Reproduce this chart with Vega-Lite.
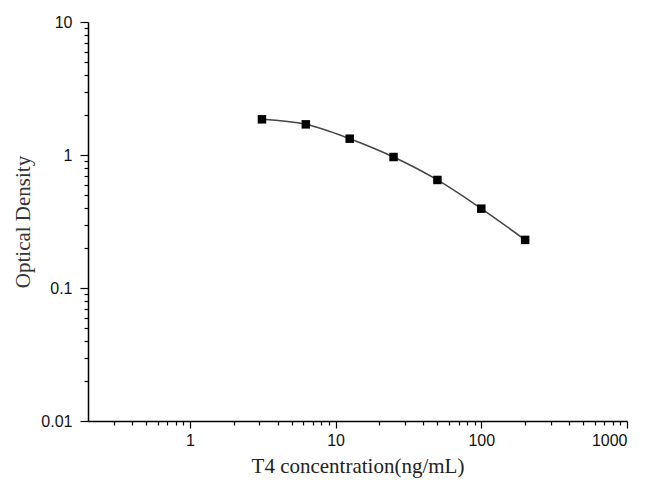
{
  "$schema": "https://vega.github.io/schema/vega-lite/v6.json",
  "width": 539,
  "height": 399,
  "autosize": {"type": "none"},
  "padding": {"left": 88, "top": 22, "right": 18, "bottom": 64},
  "background": "white",
  "config": {"view": {"stroke": null}},
  "data": {
    "values": [
      {"conc": 3.125, "od": 1.855},
      {"conc": 6.25, "od": 1.70},
      {"conc": 12.5, "od": 1.326},
      {"conc": 25, "od": 0.966},
      {"conc": 50, "od": 0.649},
      {"conc": 100, "od": 0.395},
      {"conc": 200, "od": 0.230}
    ]
  },
  "encoding": {
    "x": {"field": "conc", "type": "quantitative", "scale": {"type": "log", "domain": [0.2, 1000], "nice": false}},
    "y": {"field": "od", "type": "quantitative", "scale": {"type": "log", "domain": [0.01, 10], "nice": false}}
  },
  "layer": [
    {
      "mark": {"type": "line", "interpolate": "monotone", "color": "#444444", "strokeWidth": 1.5},
      "encoding": {
        "x": {"field": "conc", "type": "quantitative",
          "axis": {"orient": "bottom", "values": [1, 10, 100, 1000], "format": "~g", "grid": false,
            "domainColor": "#000000", "domainWidth": 1.5, "tickColor": "#000000", "tickWidth": 1.2, "tickSize": 7,
            "labelFont": "Liberation Sans", "labelFontSize": 16, "labelColor": "#111111", "labelPadding": 4,
            "title": "T4 concentration(ng/mL)", "titleFont": "Liberation Serif", "titleFontSize": 21, "titleFontWeight": "normal", "titleColor": "#222222", "titlePadding": 7}},
        "y": {"field": "od", "type": "quantitative",
          "axis": {"orient": "left", "values": [0.01, 0.1, 1, 10], "format": "~g", "grid": false,
            "domainColor": "#000000", "domainWidth": 1.5, "tickColor": "#000000", "tickWidth": 1.2, "tickSize": 8,
            "labelFont": "Liberation Sans", "labelFontSize": 16, "labelColor": "#111111", "labelPadding": 8,
            "title": "Optical Density", "titleFont": "Liberation Serif", "titleFontSize": 21, "titleFontWeight": "normal", "titleColor": "#333333", "titlePadding": 7}}
      }
    },
    {
      "mark": {"type": "point", "shape": "square", "filled": true, "color": "#000000", "size": 72, "opacity": 1},
      "encoding": {
        "x": {"field": "conc", "type": "quantitative",
          "axis": {"orient": "bottom", "values": [0.3, 0.4, 0.5, 0.6, 0.7, 0.8, 0.9, 2, 3, 4, 5, 6, 7, 8, 9, 20, 30, 40, 50, 60, 70, 80, 90, 200, 300, 400, 500, 600, 700, 800, 900],
            "labels": false, "domain": false, "grid": false, "title": null, "tickColor": "#000000", "tickWidth": 1.2, "tickSize": 4}},
        "y": {"field": "od", "type": "quantitative",
          "axis": {"orient": "left", "values": [0.02, 0.03, 0.04, 0.05, 0.06, 0.07, 0.08, 0.09, 0.2, 0.3, 0.4, 0.5, 0.6, 0.7, 0.8, 0.9, 2, 3, 4, 5, 6, 7, 8, 9],
            "labels": false, "domain": false, "grid": false, "title": null, "tickColor": "#000000", "tickWidth": 1.2, "tickSize": 4}}
      }
    }
  ],
  "resolve": {"axis": {"x": "independent", "y": "independent"}}
}
